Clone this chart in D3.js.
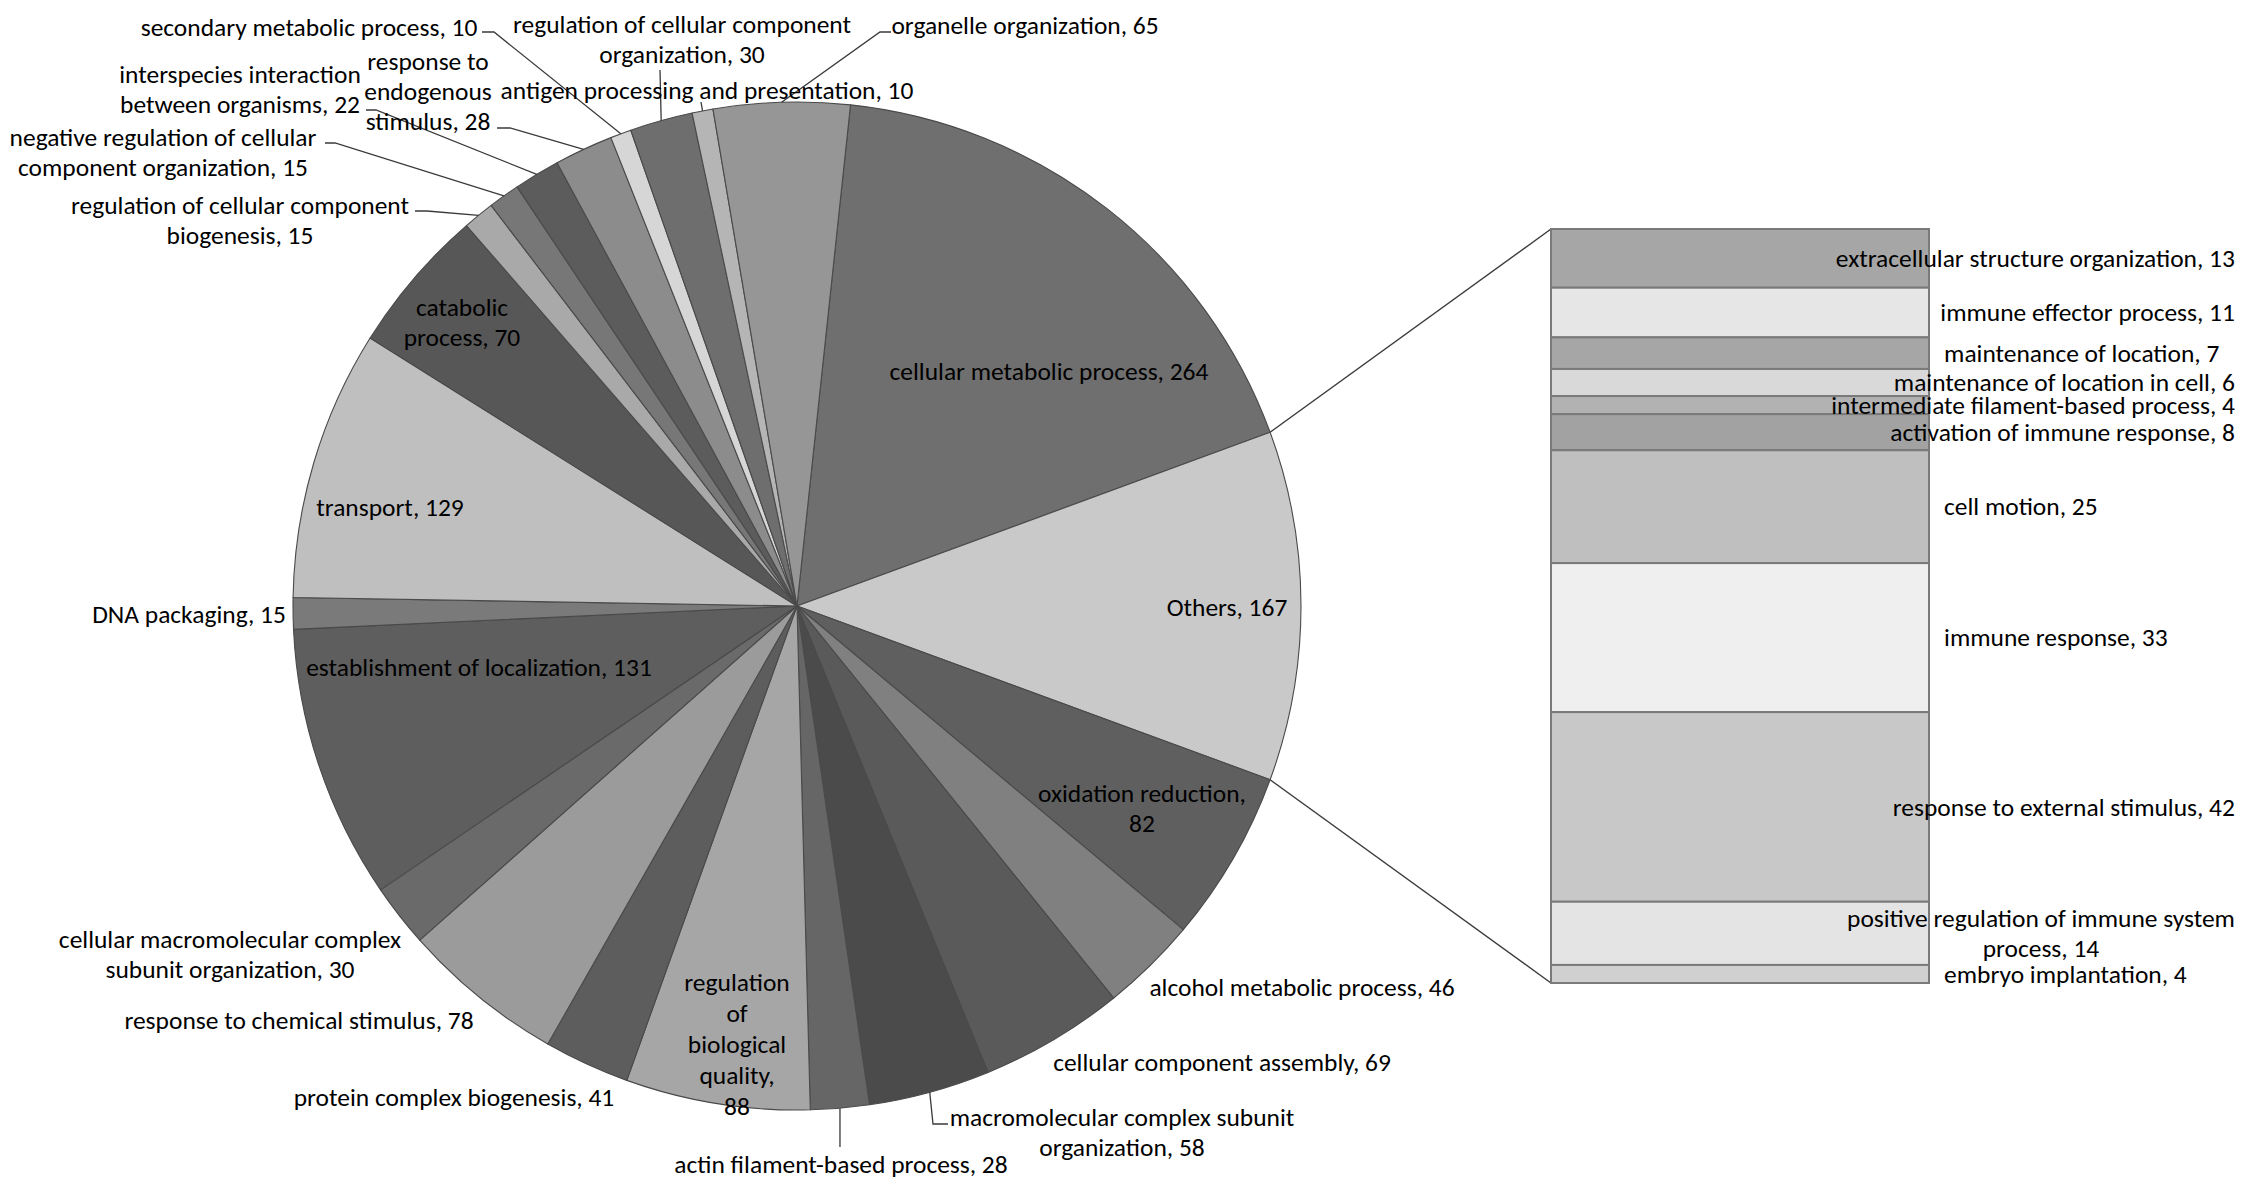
<!DOCTYPE html>
<html><head><meta charset="utf-8">
<script src="https://cdn.jsdelivr.net/npm/d3@7"></script>
<style>
html,body{margin:0;padding:0;background:#fff;}
svg{display:block;}
text{font-family:Carlito,Calibri,Lato,sans-serif;fill:#000;}
</style>
</head><body>
<svg id="chart" width="2244" height="1191"></svg>
<script>
// ---------- DATA ----------
const pieNames = [
  "cellular metabolic process","Others","oxidation reduction","alcohol metabolic process",
  "cellular component assembly","macromolecular complex subunit organization",
  "actin filament-based process","regulation of biological quality","protein complex biogenesis",
  "response to chemical stimulus","cellular macromolecular complex subunit organization",
  "establishment of localization","DNA packaging","transport","catabolic process",
  "regulation of cellular component biogenesis","negative regulation of cellular component organization",
  "interspecies interaction between organisms","response to endogenous stimulus",
  "secondary metabolic process","regulation of cellular component organization",
  "antigen processing and presentation","organelle organization"
];
const pieValues = [264,167,82,46,69,58,28,88,41,78,30,131,15,129,70,15,15,22,28,10,30,10,65];

const barNames = [
  "extracellular structure organization","immune effector process","maintenance of location",
  "maintenance of location in cell","intermediate filament-based process","activation of immune response",
  "cell motion","immune response","response to external stimulus",
  "positive regulation of immune system process","embryo implantation"
];
const barValues = [13,11,7,6,4,8,25,33,42,14,4];

// ---------- STYLES ----------
const pieColors = ["#6f6f6f","#c9c9c9","#5f5f5f","#808080","#5a5a5a","#4b4b4b","#666666","#a6a6a6",
  "#5d5d5d","#9b9b9b","#6a6a6a","#5e5e5e","#7a7a7a","#bfbfbf","#575757","#a9a9a9","#777777",
  "#5c5c5c","#8c8c8c","#d6d6d6","#6e6e6e","#b5b5b5","#969696"];
const barColors = ["#a6a6a6","#e6e6e6","#a6a6a6","#d9d9d9","#b2b2b2","#a2a2a2","#bfbfbf",
  "#efefef","#c8c8c8","#e4e4e4","#d0d0d0"];

// ---------- LAYOUT ----------
const W = 2244, H = 1191;
const cx = 797, cy = 606, R = 504;
const bar = {x0:1551, x1:1929, top:229, bottom:983};
const fontSize = 24, lineH = 30;
const barLabelLeft = 1944, barLabelRight = 2235;

// label layout for pie slices (same order as pieNames)
const pieLabelLayout = [
  {lines:["cellular metabolic process, 264"], x:1049, y:371},
  {lines:["Others, 167"], x:1227, y:607},
  {lines:["oxidation reduction,","82"], x:1142, y:793},
  {lines:["alcohol metabolic process, 46"], x:1302, y:987},
  {lines:["cellular component assembly, 69"], x:1222, y:1062},
  {lines:["macromolecular complex subunit","organization, 58"], x:1122, y:1117, leader:[[933,1124],[948,1124]]},
  {lines:["actin filament-based process, 28"], x:841, y:1164, leader:[[840,1147]]},
  {lines:["regulation","of","biological","quality,","88"], x:737, y:982, lh:31},
  {lines:["protein complex biogenesis, 41"], x:454, y:1097},
  {lines:["response to chemical stimulus, 78"], x:299, y:1020},
  {lines:["cellular macromolecular complex","subunit organization, 30"], x:230, y:939},
  {lines:["establishment of localization, 131"], x:479, y:667},
  {lines:["DNA packaging, 15"], x:189, y:614},
  {lines:["transport, 129"], x:390, y:507},
  {lines:["catabolic","process, 70"], x:462, y:307},
  {lines:["regulation of cellular component","biogenesis, 15"], x:240, y:205, leader:[[427,211],[415,211]]},
  {lines:["negative regulation of cellular","component organization, 15"], x:163, y:137, leader:[[335,143],[325,143]]},
  {lines:["interspecies interaction","between organisms, 22"], x:240, y:74, leader:[[376,110],[366,110]]},
  {lines:["response to","endogenous","stimulus, 28"], x:428, y:61, leader:[[510,128],[497,128]]},
  {lines:["secondary metabolic process, 10"], x:309, y:27, leader:[[494,32],[482,32]]},
  {lines:["regulation of cellular component","organization, 30"], x:682, y:24, leader:[[660,70]]},
  {lines:["antigen processing and presentation, 10"], x:707, y:90, leader:[[701,102]]},
  {lines:["organelle organization, 65"], x:1025, y:25, leader:[[880,32],[891,32]]}
];
const barLabelLines = {
  "positive regulation of immune system process": ["positive regulation of immune system","process, 14"]
};

// ---------- DRAW ----------
const svg = d3.select("#chart");

// horizontal scale factor so widths match the original Calibri-like face
const probe = svg.append("text").attr("font-size", fontSize).text("cellular metabolic process, 264");
const kx = 319 / probe.node().getComputedTextLength();
probe.remove();

const pieData = pieNames.map((n,i)=>({name:n, value:pieValues[i], color:pieColors[i], layout:pieLabelLayout[i]}));
const total = d3.sum(pieValues);
const othersIdx = pieNames.indexOf("Others");
const before = d3.sum(pieValues.slice(0, othersIdx));
const start = Math.PI/2 - (before + pieValues[othersIdx]/2) / total * 2*Math.PI;

const pie = d3.pie().sort(null).value(d=>d.value).startAngle(start).endAngle(start + 2*Math.PI);
const arcs = pie(pieData);
const arc = d3.arc().innerRadius(0).outerRadius(R);
const pt = (a, r) => [cx + r*Math.sin(a), cy - r*Math.cos(a)];

// connector lines to bar
const oth = arcs[othersIdx];
const line = d3.line();
const gConn = svg.append("g");
gConn.append("path").attr("d", line([pt(oth.startAngle,R), [bar.x0, bar.top]]))
  .attr("fill","none").attr("stroke","#3c3c3c").attr("stroke-width",1.4);
gConn.append("path").attr("d", line([pt(oth.endAngle,R), [bar.x0, bar.bottom]]))
  .attr("fill","none").attr("stroke","#3c3c3c").attr("stroke-width",1.4);

// slices
const gPie = svg.append("g").attr("transform", `translate(${cx},${cy})`);
gPie.selectAll("path").data(arcs).join("path")
  .attr("d", arc).attr("fill", d=>d.data.color)
  .attr("stroke","#4a4a4a").attr("stroke-width",1.1).attr("stroke-linejoin","round");

// leader lines
const gLead = svg.append("g");
arcs.forEach(a=>{
  const L = a.data.layout;
  if(!L.leader) return;
  const mid = (a.startAngle + a.endAngle)/2;
  const pts = [pt(mid, R)].concat(L.leader);
  gLead.append("path").attr("d", line(pts)).attr("fill","none")
    .attr("stroke","#3a3a3a").attr("stroke-width",1.3);
});

function drawLabel(g, lines, x, yFirst, lh){
  const t = g.append("g").attr("transform", `translate(${x},${yFirst}) scale(${kx},1)`);
  const tx = t.append("text").attr("text-anchor","middle").attr("font-size",fontSize);
  lines.forEach((s,i)=>{
    tx.append("tspan").attr("x",0).attr("y", i*lh).attr("dy","0.36em").text(s);
  });
  return tx;
}

const gLab = svg.append("g");
arcs.forEach(a=>{
  const L = a.data.layout;
  drawLabel(gLab, L.lines, L.x, L.y, L.lh || lineH);
});

// bar of pie
const barTotal = d3.sum(barValues);
const y = d3.scaleLinear().domain([0, barTotal]).range([bar.top, bar.bottom]);
let cum = 0;
const barData = barNames.map((n,i)=>{ const d={name:n, value:barValues[i], y0:cum, y1:cum+barValues[i], color:barColors[i]}; cum+=barValues[i]; return d; });
const gBar = svg.append("g");
gBar.selectAll("rect").data(barData).join("rect")
  .attr("x", bar.x0).attr("width", bar.x1 - bar.x0)
  .attr("y", d=>y(d.y0)).attr("height", d=>y(d.y1)-y(d.y0))
  .attr("fill", d=>d.color).attr("stroke","#7a7a7a").attr("stroke-width",2);

const gBarLab = svg.append("g");
barData.forEach(d=>{
  const lines = barLabelLines[d.name] || [d.name + ", " + d.value];
  const yc = (y(d.y0)+y(d.y1))/2;
  const y0 = yc - (lines.length-1)*lineH/2;
  const tmp = svg.append("text").attr("font-size",fontSize);
  let w = 0;
  lines.forEach(s=>{ tmp.text(s); w = Math.max(w, tmp.node().getComputedTextLength()*kx); });
  tmp.remove();
  const left = Math.min(barLabelLeft, barLabelRight - w);
  drawLabel(gBarLab, lines, left + w/2, y0, lineH);
});
</script>
</body></html>
